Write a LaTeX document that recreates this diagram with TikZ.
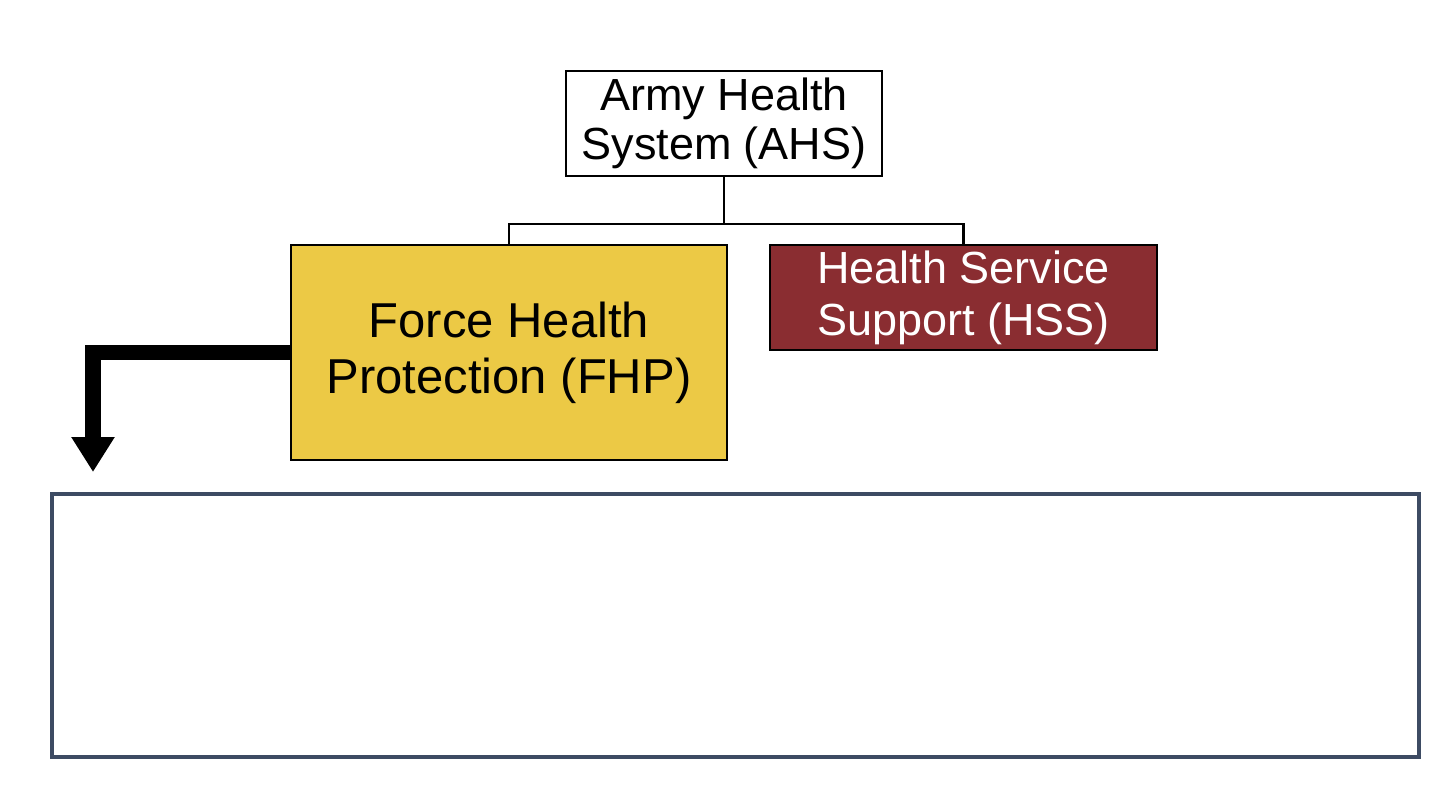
\documentclass[tikz,border=0pt]{standalone}
\usepackage{fontspec}
\setmainfont{Liberation Sans}
\usetikzlibrary{arrows.meta}
\definecolor{fhpyellow}{HTML}{ECC945}
\definecolor{hssred}{HTML}{8A2D31}
\definecolor{slateframe}{HTML}{3D4B63}
\tikzset{
  box/.style={draw=black, line width=1.3pt, inner sep=0pt, align=center, anchor=center},
  conn/.style={draw=black, line width=1.4pt},
  bigarrow/.style={draw=black, line width=7.8pt, line join=miter, -{Triangle[width=20.5pt,length=17.5pt]}},
}
\begin{document}
\begin{tikzpicture}[x=0.5pt,y=-0.5pt]
\useasboundingbox (0,0) rectangle (1440,792);
\node[box, fill=white, minimum width=158pt, minimum height=52.5pt,
      font=\fontsize{22.5}{24.5}\selectfont] (ahs) at (724,123.5) {Army Health\\System (AHS)};
\node[box, fill=fhpyellow, minimum width=218pt, minimum height=107.5pt,
      font=\fontsize{24.5}{28}\selectfont] (fhp) at (509,352.5) {Force Health\\Protection (FHP)};
\node[box, fill=hssred, text=white, minimum width=193.5pt, minimum height=52.5pt,
      font=\fontsize{22.5}{26}\selectfont] (hss) at (963.5,297.5) {Health Service\\Support (HSS)};
\node[draw=slateframe, line width=1.6pt, inner sep=0pt, minimum width=683.5pt, minimum height=131.5pt] (big) at (735.5,625.5) {};
\coordinate (bus) at (724,224);
\draw[conn] (ahs.south) -- (bus);
\draw[conn] (bus) -| (fhp.north);
\draw[conn] (bus) -| (hss.north);
\coordinate (tip) at (93,472);
\draw[bigarrow] (fhp.west) -| (tip);
\end{tikzpicture}
\end{document}
